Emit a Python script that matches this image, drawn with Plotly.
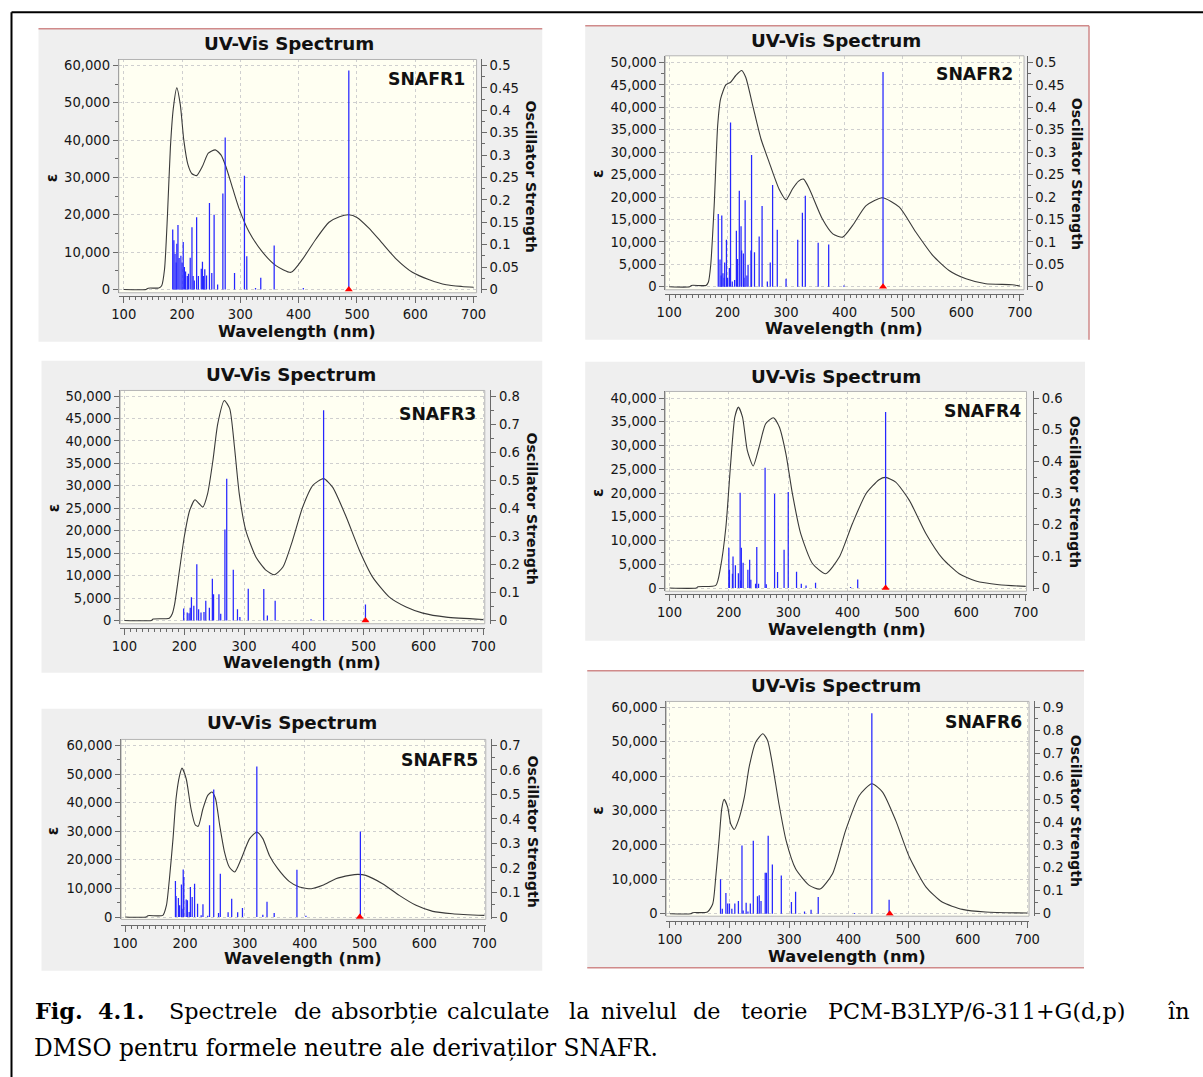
import plotly.graph_objects as go

# ------------------------------------------------------------------ data
names = ["SNAFR1", "SNAFR2", "SNAFR3", "SNAFR4", "SNAFR5", "SNAFR6"]

# broadened spectra (wavelength nm, epsilon)
wl1 = [100, 138, 142, 160, 165, 170, 175, 180, 185, 191, 197, 203, 210, 217, 225, 235, 245, 257, 267, 275,
       287, 298, 315, 338, 361, 387, 407, 430, 452, 470, 486, 500, 520, 540, 567, 595, 624, 653, 680, 700]
eps1 = [0, 0, 350, 400, 1000, 5500, 20000, 38000, 48500, 54000, 49500, 40000, 33500, 31000, 30500, 33000, 36500, 37400, 36000, 33000,
        27000, 21600, 15400, 10000, 6400, 4600, 8200, 13600, 18000, 19500, 20000, 19300, 16500, 13000, 8200, 4600, 2600, 1250, 800, 600]

wl2 = [100, 135, 138, 163, 167, 171, 177, 183, 188, 197, 205, 214, 224, 231, 243, 257, 271, 288, 300, 311,
       321, 330, 340, 362, 380, 397, 414, 437, 465, 494, 522, 551, 579, 608, 642, 687, 700]
eps2 = [0, 0, 300, 300, 1000, 4750, 18100, 36000, 41900, 45000, 45600, 47100, 48200, 46700, 40400, 33000, 27800, 21800, 19400, 21800,
        23500, 24000, 21800, 15150, 11800, 11070, 13670, 18100, 19840, 17750, 12200, 7000, 3640, 1780, 670, 450, 150]

wl3 = [100, 145, 148, 175, 180, 184, 192, 200, 209, 218, 225, 231, 239, 248, 256, 267, 276, 284, 292, 303,
       320, 337, 351, 365, 381, 398, 415, 433, 448, 471, 493, 515, 543, 571, 599, 638, 700]
eps3 = [0, 0, 300, 500, 1500, 3700, 11150, 18600, 24500, 26900, 26000, 25260, 28200, 35700, 43800, 49000, 47200, 38600, 28200, 20000,
        14100, 11150, 10180, 11900, 17800, 25260, 30100, 31600, 29700, 23000, 15600, 9660, 5200, 3000, 1630, 740, 220]

wl4 = [100, 145, 148, 178, 186, 195, 203, 210, 216, 223, 231, 241, 251, 262, 275, 285, 296, 307, 321, 341,
       363, 386, 408, 431, 453, 464, 481, 504, 532, 560, 588, 616, 655, 700]
eps4 = [0, 0, 280, 560, 4420, 12840, 26200, 36000, 38100, 36000, 29000, 25700, 29700, 34600, 35860, 33900, 28300, 19860, 11440, 5120,
        3020, 6530, 13540, 19860, 22800, 23300, 22300, 18460, 11440, 6180, 3020, 1470, 700, 350]

wl5 = [100, 135, 138, 163, 169, 174, 180, 185, 191, 195, 202, 210, 217, 222, 230, 238, 245, 251, 258, 266,
       274, 283, 294, 308, 320, 330, 341, 355, 374, 391, 411, 430, 452, 475, 489, 502, 530, 558, 586, 614, 647, 700]
eps5 = [0, 0, 470, 580, 4080, 13400, 27400, 41360, 49500, 52080, 48350, 37860, 32270, 31700, 37860, 42530, 43700, 41360, 32040, 22700,
        17480, 15730, 20390, 27400, 29700, 27400, 21550, 16900, 12470, 10500, 9900, 11070, 13400, 14560, 14900, 14560, 11650, 7570, 4080, 1980, 1165, 580]

wl6 = [100, 135, 138, 163, 172, 177, 183, 187, 191, 197, 202, 208, 215, 225, 233, 244, 256, 264, 272, 283,
       295, 311, 334, 352, 373, 395, 418, 439, 457, 479, 502, 530, 557, 591, 630, 700]
eps6 = [0, 0, 300, 480, 2900, 10660, 22300, 30500, 33250, 31000, 26170, 24500, 27140, 33900, 42650, 49900, 52340, 50400, 43600, 31990,
        21320, 13080, 8240, 7170, 11630, 24230, 34400, 37800, 35380, 27140, 16480, 7750, 3390, 1260, 480, 190]

# stick spectra (wavelength nm, oscillator strength)
sw1 = [486, 274, 307, 270, 247, 255, 225, 217, 193, 184, 202, 191, 358, 311, 214, 235, 233, 242, 251, 290,
       335, 261, 326, 408, 186, 188, 190, 195, 198, 200, 204, 206, 209, 211, 219, 221, 228, 237, 239]
sf1 = [0.489, 0.339, 0.254, 0.214, 0.193, 0.167, 0.161, 0.139, 0.144, 0.134, 0.106, 0.102, 0.098, 0.074, 0.071, 0.062, 0.046, 0.031, 0.037, 0.037,
       0.026, 0.011, 0.003, 0.003, 0.11, 0.08, 0.06, 0.07, 0.075, 0.06, 0.05, 0.04, 0.03, 0.035, 0.03, 0.02, 0.03, 0.03, 0.045]

sw2 = [466, 205, 241, 277, 220, 333, 230, 259, 328, 184, 190, 223, 285, 215, 254, 198, 320, 355, 373, 224,
       240, 246, 227, 217, 187, 273, 195, 203, 235, 300, 268, 399, 189, 192, 194, 200, 208, 212, 228, 233]
sf2 = [0.479, 0.366, 0.294, 0.227, 0.214, 0.203, 0.193, 0.18, 0.165, 0.162, 0.159, 0.135, 0.127, 0.125, 0.112, 0.105, 0.105, 0.098, 0.094, 0.081,
       0.081, 0.077, 0.074, 0.062, 0.061, 0.054, 0.054, 0.042, 0.049, 0.018, 0.012, 0.003, 0.025, 0.03, 0.02, 0.02, 0.012, 0.015, 0.02, 0.025]

sw3 = [433, 271, 268, 282, 221, 247, 307, 333, 249, 258, 212, 352, 236, 503, 216, 199, 242, 289, 205, 224,
       228, 233, 261, 339, 293, 412, 208, 210]
sf3 = [0.749, 0.505, 0.3245, 0.181, 0.2, 0.149, 0.113, 0.112, 0.093, 0.093, 0.083, 0.07, 0.07, 0.057, 0.052, 0.043, 0.045, 0.04, 0.0285, 0.04,
       0.0285, 0.03, 0.024, 0.018, 0.012, 0.004, 0.026, 0.045]

sw4 = [464, 261, 300, 219, 277, 293, 247, 200, 221, 207, 235, 211, 224, 282, 314, 201, 232, 216, 417, 346,
       206, 237, 322, 330, 245, 250, 263, 220, 405]
sf4 = [0.556, 0.38, 0.303, 0.301, 0.298, 0.121, 0.1295, 0.127, 0.127, 0.1, 0.089, 0.0716, 0.08, 0.0505, 0.0516, 0.058, 0.058, 0.047, 0.027, 0.017,
       0.045, 0.026, 0.0137, 0.0084, 0.0137, 0.0137, 0.0116, 0.024, 0.003]

sw5 = [320, 248, 241, 493, 387, 197, 259, 184, 216, 194, 198, 209, 212, 189, 202, 204, 278, 337, 221, 230,
       296, 185, 349, 272, 288, 330, 256, 402, 191, 195, 207, 238, 227]
sf5 = [0.614, 0.52, 0.374, 0.349, 0.193, 0.194, 0.177, 0.147, 0.136, 0.133, 0.163, 0.122, 0.082, 0.078, 0.071, 0.068, 0.075, 0.0625, 0.054, 0.052,
       0.037, 0.086, 0.016, 0.019, 0.019, 0.0095, 0.016, 0.005, 0.048, 0.034, 0.02, 0.005, 0.007]

sw6 = [439, 265, 240, 221, 272, 287, 260, 262, 185, 311, 349, 468, 304, 194, 250, 247, 253, 228, 235, 209,
       215, 197, 200, 337, 326, 231, 410, 188, 204, 223]
sf6 = [0.875, 0.34, 0.318, 0.298, 0.215, 0.167, 0.179, 0.179, 0.15, 0.096, 0.073, 0.061, 0.051, 0.09, 0.08, 0.076, 0.055, 0.048, 0.044, 0.044,
       0.055, 0.044, 0.044, 0.017, 0.01, 0.01, 0.003, 0.022, 0.022, 0.0145]

# wavelength of the marked (red triangle) transition
marker_wl = [486, 466, 503, 464, 492, 469]

# axis scales
eps_max = [60000, 50000, 50000, 40000, 60000, 60000]
eps_dtick = [10000, 5000, 5000, 5000, 10000, 10000]
f_max = [0.5, 0.5, 0.8, 0.6, 0.7, 0.9]
f_dtick = [0.05, 0.05, 0.1, 0.1, 0.1, 0.1]
x_ticks = [100, 200, 300, 400, 500, 600, 700]

title_text = "UV-Vis Spectrum"
xtitle_text = "Wavelength (nm)"
ytitle_text = "ε"
y2title_text = "Oscillator Strength"

caption_words = ["Fig.", "4.1.", "Spectrele", "de", "absorbție", "calculate", "la", "nivelul", "de",
                 "teorie", "PCM-B3LYP/6-311+G(d,p)", "în"]
caption_line2 = "DMSO pentru formele neutre ale derivaților SNAFR."

curves = [(wl1, eps1), (wl2, eps2), (wl3, eps3), (wl4, eps4), (wl5, eps5), (wl6, eps6)]
sticks = [(sw1, sf1), (sw2, sf2), (sw3, sf3), (sw4, sf4), (sw5, sf5), (sw6, sf6)]

# ------------------------------------------------------------------ layout geometry (reference pixels)
W, H = 1203, 1077
geom = [
    dict(L=119.3, R=477.3, T=60.7, B=294, x100=124.3, x700=474.3, y0=290.7, ytop=66.7, xline=297.7, rax=481.7,
         bg=(39, 543, 30, 343), title=(290, 45), tag=(468, 80), xt=(298, 333), osc=(532, 178), eps=(52, 179)),
    dict(L=666, R=1025, T=57, B=291, x100=670, x700=1020.7, y0=288, ytop=63.7, xline=295, rax=1027.7,
         bg=(586, 1090, 27, 341), title=(837, 42), tag=(1015.7, 75), xt=(845, 330), osc=(1078, 175), eps=(599, 175)),
    dict(L=120.7, R=485.5, T=391.7, B=625, x100=125, x700=484, y0=621.7, ytop=397.3, xline=629, rax=491,
         bg=(42, 543, 362, 674), title=(292, 376), tag=(479, 415), xt=(303, 664), osc=(533, 510), eps=(54, 509)),
    dict(L=666, R=1027.5, T=392.7, B=592.5, x100=670.3, x700=1026.7, y0=589.3, ytop=399.3, xline=595.7, rax=1034,
         bg=(586, 1086, 363, 642), title=(837, 378), tag=(1024, 412), xt=(848, 631), osc=(1076, 493), eps=(599, 494)),
    dict(L=121.7, R=486.5, T=740.7, B=920.7, x100=125.7, x700=485, y0=918.3, ytop=746.7, xline=926, rax=491.7,
         bg=(42, 543, 710, 972), title=(293, 724), tag=(480.7, 761.7), xt=(304, 960), osc=(534, 833), eps=(53, 832)),
    dict(L=667, R=1030, T=702.7, B=917.5, x100=670.7, x700=1028.3, y0=915, ytop=708.7, xline=922, rax=1035,
         bg=(588, 1085, 672, 969), title=(837, 687), tag=(1025, 723), xt=(848, 957.7), osc=(1076.7, 811.7), eps=(599, 811.7)),
]

# the photographed page shows the figure slightly shifted/scaled; compensate
SX, OX = 0.983, 9.5
SY, OY = 0.9936, 3.2
FS = 1 / 0.986


def px(x):
    return ((x - OX) / SX) / W


def py(y):
    return 1 - ((y - OY) / SY) / H


PANEL_BG = "#efefef"
PLOT_BG = "#fffff2"
AX = "#6a6a6a"
GRID = "#cfcfcf"
TF = dict(family="DejaVu Sans", size=13 * FS, color="#161616")
RED = "#d08a8a"

fig = go.Figure()
shapes = []
annotations = []
layout_axes = {}

# panel backgrounds first
for g in geom:
    l, r, t, b = g["bg"]
    shapes.append(dict(type="rect", xref="paper", yref="paper", x0=px(l), x1=px(r), y0=py(b), y1=py(t),
                       fillcolor=PANEL_BG, line=dict(width=0), layer="below"))
for g in geom:
    shapes.append(dict(type="rect", xref="paper", yref="paper", x0=px(g["L"]), x1=px(g["R"]), y0=py(g["B"]), y1=py(g["T"]),
                       fillcolor=PLOT_BG, line=dict(width=0), layer="below"))

for i, g in enumerate(geom):
    k = i + 1
    xk = "x" if k == 1 else f"x{k}"
    yk = "y" if k == 1 else f"y{k}"
    yr = f"y{k + 6}"
    wl, ep = curves[i]
    sw, sf = sticks[i]

    # scales
    sx = (g["x700"] - g["x100"]) / 600.0
    xmin = 100 - (g["x100"] - g["L"]) / sx
    xmax = 700 + (g["R"] - g["x700"]) / sx
    sy = (g["y0"] - g["ytop"]) / eps_max[i]
    ylo = -(g["B"] - g["y0"]) / sy
    yhi = eps_max[i] + (g["ytop"] - g["T"]) / sy
    flo = ylo / eps_max[i] * f_max[i]
    fhi = yhi / eps_max[i] * f_max[i]

    fig.add_trace(go.Scatter(x=wl, y=ep, mode="lines", xaxis=xk, yaxis=yk, showlegend=False, hoverinfo="skip",
                             line=dict(color="#3a3a3a", width=1.1, shape="spline", smoothing=0.6)))
    stx, sty = [], []
    for w_, f_ in zip(sw, sf):
        stx += [w_, w_, None]
        sty += [0, f_, None]
    fig.add_trace(go.Scatter(x=stx, y=sty, mode="lines", xaxis=xk, yaxis=yr, showlegend=False, hoverinfo="skip",
                             line=dict(color="#2626ff", width=1.25)))
    fig.add_trace(go.Scatter(x=[marker_wl[i]], y=[0], mode="markers", xaxis=xk, yaxis=yr, showlegend=False,
                             hoverinfo="skip",
                             marker=dict(symbol="triangle-up", size=7, color="#ff0000", line=dict(width=0))))

    xname = "xaxis" if k == 1 else f"xaxis{k}"
    yname = "yaxis" if k == 1 else f"yaxis{k}"
    rname = f"yaxis{k + 6}"
    layout_axes[xname] = dict(
        domain=[px(g["L"]), px(g["R"])], range=[xmin, xmax], anchor="free", position=py(g["xline"]),
        showline=True, linecolor=AX, linewidth=1, ticks="outside", ticklen=6, tickcolor=AX,
        tickmode="array", tickvals=x_ticks, ticktext=[str(v) for v in x_ticks],
        minor=dict(ticks="outside", ticklen=3, dtick=10, tick0=100, tickcolor=AX, showgrid=False),
        showgrid=True, gridcolor=GRID, griddash="dot", gridwidth=1, zeroline=False, tickfont=TF)
    layout_axes[yname] = dict(
        domain=[py(g["B"]), py(g["T"])], range=[ylo, yhi], anchor=xk, side="left",
        showline=True, linecolor=AX, linewidth=1, ticks="outside", ticklen=5, tickcolor=AX,
        tick0=0, dtick=eps_dtick[i], tickformat=",",
        minor=dict(ticks="outside", ticklen=3, dtick=eps_dtick[i] / 2, tick0=0, tickcolor=AX, showgrid=False),
        showgrid=True, gridcolor=GRID, griddash="dot", gridwidth=1, zeroline=False, tickfont=TF)
    layout_axes[rname] = dict(
        overlaying=yk, side="right", anchor="free", position=px(g["rax"]), range=[flo, fhi],
        showline=True, linecolor=AX, linewidth=1, ticks="outside", ticklen=5, tickcolor=AX,
        tick0=0, dtick=f_dtick[i],
        minor=dict(ticks="outside", ticklen=3, dtick=f_dtick[i] / 2, tick0=0, tickcolor=AX, showgrid=False),
        showgrid=False, zeroline=False, tickfont=TF)

    # plot border
    shapes.append(dict(type="rect", xref="paper", yref="paper", x0=px(g["L"]), x1=px(g["R"]), y0=py(g["B"]), y1=py(g["T"]),
                       line=dict(color="#b4b4b4", width=1), layer="above"))

    annotations += [
        dict(text="<b>" + title_text + "</b>", x=px(g["title"][0]), y=py(g["title"][1]), xanchor="center", yanchor="middle",
             font=dict(family="DejaVu Sans", size=18 * FS, color="#111111")),
        dict(text="<b>" + names[i] + "</b>", x=px(g["tag"][0]), y=py(g["tag"][1]), xanchor="right", yanchor="middle",
             font=dict(family="DejaVu Sans", size=17 * FS, color="#111111")),
        dict(text="<b>" + xtitle_text + "</b>", x=px(g["xt"][0]), y=py(g["xt"][1]), xanchor="center", yanchor="middle",
             font=dict(family="DejaVu Sans", size=16 * FS, color="#111111")),
        dict(text="<b>" + y2title_text + "</b>", x=px(g["osc"][0]), y=py(g["osc"][1]), xanchor="center", yanchor="middle",
             textangle=90, font=dict(family="DejaVu Sans", size=14 * FS, color="#111111")),
        dict(text="<b>" + ytitle_text + "</b>", x=px(g["eps"][0]), y=py(g["eps"][1]), xanchor="center", yanchor="middle",
             textangle=-90, font=dict(family="DejaVu Sans", size=15 * FS, color="#111111")),
    ]

# red accent lines on some panels
red_lines = [
    (39, 30, 543, 30), (586, 27, 1090, 27), (1090, 27, 1090, 341), (588, 672, 1085, 672), (588, 969, 1085, 969),
]
for x0, y0, x1, y1 in red_lines:
    shapes.append(dict(type="line", xref="paper", yref="paper", x0=px(x0), y0=py(y0), x1=px(x1), y1=py(y1),
                       line=dict(color=RED, width=1.5), layer="above"))

# outer frame
shapes.append(dict(type="line", xref="paper", yref="paper", x0=px(12), y0=py(13.5), x1=px(1210), y1=py(13.5),
                   line=dict(color="#000000", width=2)))
shapes.append(dict(type="line", xref="paper", yref="paper", x0=px(12), y0=py(13.5), x1=px(12), y1=py(1085),
                   line=dict(color="#000000", width=2)))

# caption (first line is justified in the reference -> words placed individually)
word_x = [34, 97, 168, 293, 330, 446, 568, 600, 692, 740, 827, 1167]
for j, (wd, xx) in enumerate(zip(caption_words, word_x)):
    txt = "<b>" + wd + "</b>" if j < 2 else wd
    annotations.append(dict(text=txt, x=px(xx), y=py(1012), xanchor="left", yanchor="middle", showarrow=False,
                            xref="paper", yref="paper", font=dict(family="DejaVu Serif", size=22 * FS, color="#000000")))
annotations.append(dict(text=caption_line2, x=px(33), y=py(1049), xanchor="left", yanchor="middle", showarrow=False,
                        xref="paper", yref="paper", font=dict(family="DejaVu Serif", size=23 * FS, color="#000000")))

for a in annotations:
    a.setdefault("showarrow", False)
    a.setdefault("xref", "paper")
    a.setdefault("yref", "paper")

fig.update_layout(
    width=W, height=H, margin=dict(l=0, r=0, t=0, b=0), autosize=False,
    paper_bgcolor="#ffffff", plot_bgcolor=PLOT_BG, showlegend=False, hovermode=False,
    shapes=shapes, annotations=annotations, **layout_axes,
)

fig.write_html("out.html", config={"displayModeBar": False, "staticPlot": True},
               post_script="document.body.style.margin='0px';document.body.style.overflow='hidden';")
